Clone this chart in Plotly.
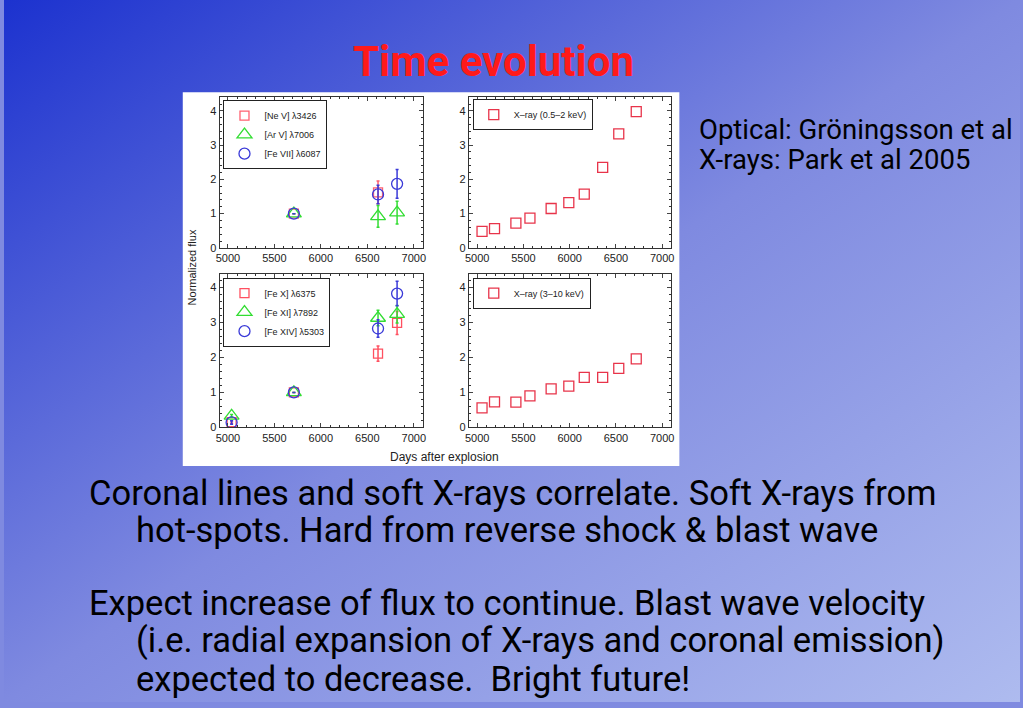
import base64
import plotly.graph_objects as go

# ---------------- data ----------------
# top-left panel (optical lines)
nev_x = [5710, 6615]
nev_y = [1.0, 1.62]
nev_e = [0.0, 0.33]
arv_x = [5710, 6615, 6820]
arv_y = [1.0, 0.92, 1.03]
arv_e = [0.0, 0.32, 0.33]
fevii_x = [5710, 6615, 6820]
fevii_y = [1.0, 1.56, 1.87]
fevii_e = [0.0, 0.27, 0.42]

# bottom-left panel (coronal lines)
fex_x = [5040, 5710, 6615, 6820]
fex_y = [0.15, 1.0, 2.11, 2.99]
fex_e = [0.03, 0.0, 0.22, 0.33]
fexi_x = [5040, 5710, 6615, 6820]
fexi_y = [0.33, 1.0, 3.13, 3.24]
fexi_e = [0.04, 0.0, 0.22, 0.25]
fexiv_x = [5040, 5710, 6615, 6820]
fexiv_y = [0.14, 1.0, 2.83, 3.83]
fexiv_e = [0.05, 0.0, 0.25, 0.35]

# X-ray panels
xray_x = [5053, 5188, 5419, 5571, 5800, 5991, 6158, 6357, 6531, 6720]
soft_y = [0.48, 0.56, 0.72, 0.87, 1.15, 1.32, 1.57, 2.35, 3.33, 3.98]
hard_y = [0.56, 0.73, 0.72, 0.90, 1.10, 1.18, 1.43, 1.43, 1.69, 1.96]

x_ticks = [5000, 5500, 6000, 6500, 7000]
y_ticks = [0, 1, 2, 3, 4]

# ---------------- style ----------------
W, H = 1023, 708
RED = "#e8344a"
GREEN = "#33dd33"
BLUE = "#3a3ad8"


def px(x):
    return x / W


def py(y):
    return 1 - y / H


fig = go.Figure()


def add(xs, ys, es, name, color, symbol, size, xa, ya, legend):
    fig.add_trace(go.Scatter(
        x=xs, y=ys, mode="markers", name=name,
        marker=dict(symbol=symbol, size=size, color=color,
                    line=dict(width=1.3)),
        error_y=(dict(type="data", array=es, color=color, thickness=1.5, width=1.5)
                 if es is not None else None),
        xaxis=xa, yaxis=ya, legend=legend,
    ))


add(nev_x, nev_y, nev_e, "[Ne V] λ3426", "#ff6070", "square-open", 9, "x", "y", "legend")
add(arv_x, arv_y, arv_e, "[Ar V] λ7006", GREEN, "triangle-up-open", 13, "x", "y", "legend")
add(fevii_x, fevii_y, fevii_e, "[Fe VII] λ6087", BLUE, "circle-open", 11, "x", "y", "legend")

add(xray_x, soft_y, None, "X–ray (0.5–2 keV)", RED, "square-open", 10, "x2", "y2", "legend2")

add(fex_x, fex_y, fex_e, "[Fe X] λ6375", "#ff5060", "square-open", 9, "x3", "y3", "legend3")
add(fexi_x, fexi_y, fexi_e, "[Fe XI] λ7892", GREEN, "triangle-up-open", 13, "x3", "y3", "legend3")
add(fexiv_x, fexiv_y, fexiv_e, "[Fe XIV] λ5303", BLUE, "circle-open", 11, "x3", "y3", "legend3")

add(xray_x, hard_y, None, "X–ray (3–10 keV)", RED, "square-open", 10, "x4", "y4", "legend4")

axis_font = dict(family="Liberation Sans, Arial, sans-serif", size=11, color="#222")
common_x = dict(range=[4910, 7100], tickvals=x_ticks, ticks="inside", ticklen=4,
                mirror="ticks", showline=True, linecolor="#333", linewidth=1,
                showgrid=False, zeroline=False, tickfont=axis_font,
                minor=dict(ticks="inside", ticklen=2, dtick=100, tickcolor="#333"))
common_y = dict(range=[0, 4.4], tickvals=y_ticks, ticks="inside", ticklen=4,
                mirror="ticks", showline=True, linecolor="#333", linewidth=1,
                showgrid=False, zeroline=False, tickfont=axis_font,
                minor=dict(ticks="inside", ticklen=2, dtick=0.2, tickcolor="#333"))

xl = [px(217), px(422)]
xr = [px(468), px(672)]
yt = [py(250), py(98)]
yb = [py(431), py(276)]

leg_common = dict(bgcolor="white", bordercolor="#222", borderwidth=1,
                  font=dict(family="Liberation Sans, Arial, sans-serif", size=9, color="#222"),
                  xanchor="left", yanchor="top", tracegroupgap=0, itemwidth=30)

svg = ('<svg xmlns="http://www.w3.org/2000/svg" width="1023" height="708" preserveAspectRatio="none">'
       '<defs><linearGradient id="g" x1="0" y1="0" x2="1" y2="1">'
       '<stop offset="0" stop-color="#1c32cf"/>'
       '<stop offset="0.5" stop-color="#7f8ae0"/>'
       '<stop offset="1" stop-color="#aebbef"/>'
       '</linearGradient></defs>'
       '<rect width="1023" height="708" fill="url(#g)"/></svg>')
bg_src = "data:image/svg+xml;base64," + base64.b64encode(svg.encode()).decode()

slide_font = "Roboto, 'Noto Sans', sans-serif"

fig.update_layout(
    width=W, height=H, margin=dict(l=0, r=0, t=0, b=0), autosize=False,
    paper_bgcolor="#7f8ae0", plot_bgcolor="white", showlegend=True,
    xaxis=dict(domain=xl, anchor="y", **common_x),
    yaxis=dict(domain=yt, anchor="x", **common_y),
    xaxis2=dict(domain=xr, anchor="y2", **common_x),
    yaxis2=dict(domain=yt, anchor="x2", **common_y),
    xaxis3=dict(domain=xl, anchor="y3", **common_x),
    yaxis3=dict(domain=yb, anchor="x3", **common_y),
    xaxis4=dict(domain=xr, anchor="y4", **common_x),
    yaxis4=dict(domain=yb, anchor="x4", **common_y),
    legend=dict(x=px(221), y=py(101), **leg_common),
    legend2=dict(x=px(472), y=py(100), **leg_common),
    legend3=dict(x=px(221), y=py(280), **leg_common),
    legend4=dict(x=px(472), y=py(280), **leg_common),
    images=[dict(source=bg_src, xref="paper", yref="paper", x=0, y=1,
                 sizex=1, sizey=1, sizing="stretch", layer="below",
                 xanchor="left", yanchor="top")],
    shapes=[dict(type="rect", xref="paper", yref="paper",
                 x0=px(180), x1=px(680), y0=py(470), y1=py(93),
                 fillcolor="white", line=dict(width=0), layer="below")],
)

ann = []


def text(s, x, y, size, color="black", xanchor="left", bold=False, angle=0, family=slide_font):
    ann.append(dict(text=(f"<b>{s}</b>" if bold else s), x=px(x), y=py(y),
                    xref="paper", yref="paper", showarrow=False, xanchor=xanchor,
                    yanchor="middle", textangle=angle,
                    font=dict(family=family, size=size, color=color)))


text("Time evolution", 493, 62, 42, color="#ff1a1a", xanchor="center", bold=True)
text("Optical: Gröningsson et al", 698, 131, 27.5)
text("X-rays: Park et al 2005", 698, 161, 27.5)
text("Coronal lines and soft X-rays correlate. Soft X-rays from", 84, 497, 34.5)
text("hot-spots. Hard from reverse shock &amp; blast wave", 131, 535, 34.5)
text("Expect increase of flux to continue. Blast wave velocity", 84, 608, 34.5)
text("(i.e. radial expansion of X-rays and coronal emission)", 131, 646, 34.5)
text("expected to decrease.  Bright future!", 131, 685, 34.5)
axfam = "Liberation Sans, Arial, sans-serif"
text("Normalized flux", 189, 270, 11, color="#222", xanchor="center", angle=-90, family=axfam)
text("Days after explosion", 444, 461, 12, color="#222", xanchor="center", family=axfam)

fig.update_layout(annotations=ann)

fig.write_html("out.html", config={"displayModeBar": False},
               post_script="document.body.style.margin='0';")
